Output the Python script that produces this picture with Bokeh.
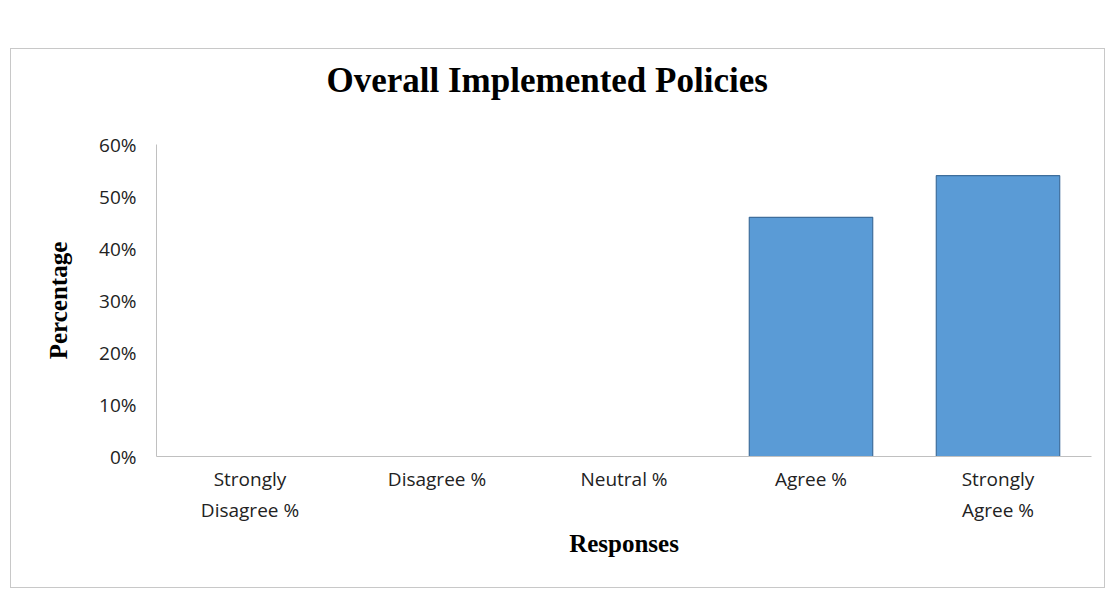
from bokeh.plotting import figure
from bokeh.models import NumeralTickFormatter, FixedTicker, Title
from bokeh.embed import file_html
from bokeh.resources import INLINE

categories = ["Strongly\nDisagree %", "Disagree %", "Neutral %", "Agree %", "Strongly\nAgree %"]
values = [0.0, 0.0, 0.0, 0.46, 0.54]
y_ticks = [0, 0.1, 0.2, 0.3, 0.4, 0.5, 0.6]
title_text = "Overall Implemented Policies"

p = figure(x_range=categories, y_range=(0, 0.6), width=1095, height=540,
           output_backend="svg", toolbar_location=None,
           min_border_left=145, min_border_right=15, min_border_top=95, min_border_bottom=133)
p.margin = (48, 0, 0, 10)
p.styles = {"border": "1px solid #c8c8c8"}

spacer = Title(text=" ", text_font_size="10px", standoff=30)
p.add_layout(spacer, "above")
t = Title(text=title_text, align="left", offset=170, standoff=4,
          text_font="Liberation Serif", text_font_size="35px", text_font_style="bold",
          text_color="#000000")
p.add_layout(t, "above")

p.vbar(x=categories, top=values, width=0.66, fill_color="#5A9BD6",
       line_color="#3E6E9C", line_width=1.2)

p.outline_line_color = None
p.xgrid.grid_line_color = None
p.ygrid.grid_line_color = None

p.yaxis.ticker = FixedTicker(ticks=y_ticks)
p.yaxis.formatter = NumeralTickFormatter(format="0%")
for ax in (p.xaxis[0], p.yaxis[0]):
    ax.axis_line_color = "#c0c0c0"
    ax.major_tick_line_color = None
    ax.minor_tick_line_color = None
    ax.major_label_text_font = "Open Sans"
    ax.major_label_text_font_size = "19px"
    ax.major_label_text_color = "#222222"
    ax.axis_label_text_font = "Liberation Serif"
    ax.axis_label_text_font_size = "25px"
    ax.axis_label_text_font_style = "bold"
    ax.axis_label_text_color = "#000000"

p.yaxis.axis_label = "Percentage"
p.yaxis.major_label_standoff = 14
p.yaxis.axis_label_standoff = 24
p.xaxis.axis_label = "Responses"
p.xaxis.major_label_standoff = 3
p.xaxis.axis_label_standoff = 4

open("out.html", "w").write(file_html(p, INLINE))
